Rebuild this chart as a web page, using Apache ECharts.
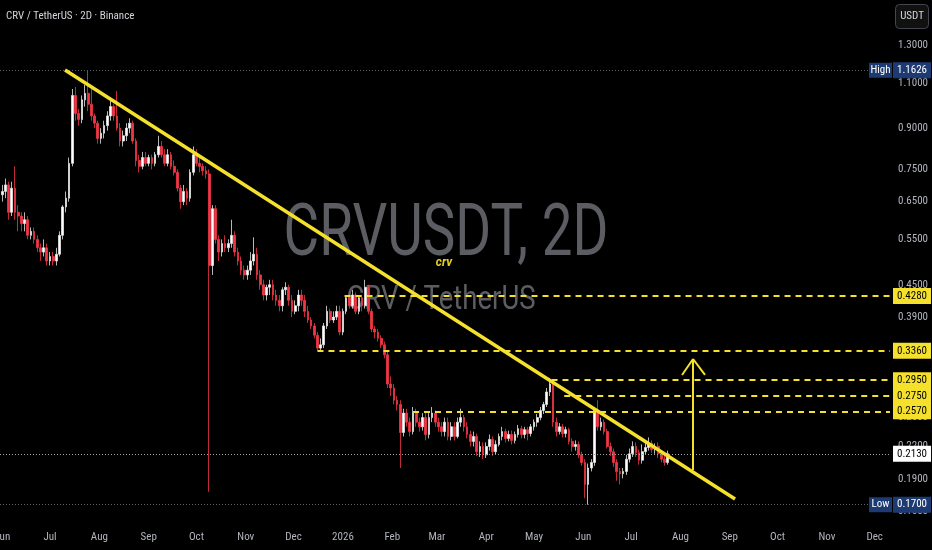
<!DOCTYPE html>
<html><head><meta charset="utf-8">
<script src="https://cdn.jsdelivr.net/npm/echarts@6/dist/echarts.min.js"></script>
<style>html,body{margin:0;background:#000}#c{width:932px;height:550px}</style>
</head><body><div id="c"></div>
<script>
// ---- data ----
const firstDate = '2025-06-01';
const stepDays = 2;
const firstOpen = 0.67;
const closes = [
0.68,0.70,0.62,0.69,0.62,0.61,0.59,0.60,0.56,0.57,
0.55,0.53,0.52,0.53,0.50,0.51,0.50,0.515,0.56,0.635,
0.66,0.77,1.04,0.96,0.935,1.02,1.05,1.00,0.95,0.92,
0.86,0.88,0.91,0.95,0.99,0.95,0.90,0.85,0.87,0.90,
0.92,0.85,0.78,0.76,0.79,0.77,0.79,0.77,0.80,0.83,
0.80,0.77,0.80,0.76,0.74,0.69,0.65,0.68,0.66,0.74,
0.80,0.77,0.76,0.745,0.735,0.49,0.63,0.55,0.52,0.54,
0.53,0.54,0.56,0.52,0.50,0.48,0.47,0.48,0.50,0.515,
0.47,0.45,0.43,0.445,0.45,0.43,0.42,0.41,0.44,0.445,
0.42,0.40,0.41,0.43,0.42,0.40,0.385,0.375,0.36,0.34,
0.345,0.375,0.40,0.385,0.39,0.40,0.365,0.40,0.425,0.41,
0.43,0.40,0.425,0.41,0.445,0.40,0.37,0.365,0.355,0.345,
0.33,0.29,0.285,0.27,0.265,0.234,0.255,0.245,0.235,0.255,
0.245,0.24,0.25,0.232,0.25,0.255,0.245,0.24,0.235,0.245,
0.23,0.24,0.23,0.245,0.25,0.24,0.232,0.225,0.23,0.215,
0.22,0.212,0.22,0.227,0.215,0.222,0.23,0.235,0.228,0.232,
0.226,0.232,0.238,0.232,0.237,0.233,0.24,0.245,0.25,0.258,
0.265,0.28,0.29,0.245,0.235,0.24,0.233,0.237,0.225,0.22,
0.222,0.212,0.205,0.186,0.20,0.205,0.258,0.24,0.245,0.235,
0.22,0.215,0.205,0.197,0.195,0.197,0.208,0.213,0.22,0.214,
0.207,0.215,0.219,0.223,0.217,0.22,0.213,0.208,0.205,0.213
];
const highs = [
0.70,0.72,0.71,0.71,0.76,0.64,0.62,0.62,0.61,0.58,
0.58,0.56,0.54,0.55,0.54,0.52,0.52,0.53,0.57,0.64,
0.68,0.79,1.07,1.08,0.98,1.04,1.09,1.1626,1.07,0.96,
0.93,0.90,0.93,0.97,1.03,1.00,1.06,0.92,0.89,0.92,
0.94,0.93,0.86,0.80,0.81,0.81,0.80,0.80,0.81,0.87,
0.85,0.82,0.82,0.81,0.78,0.75,0.70,0.70,0.69,0.75,
0.83,0.82,0.79,0.77,0.76,0.75,0.64,0.64,0.56,0.55,
0.56,0.55,0.60,0.57,0.53,0.51,0.49,0.49,0.52,0.555,
0.53,0.48,0.46,0.45,0.46,0.46,0.44,0.43,0.445,0.455,
0.45,0.43,0.42,0.44,0.44,0.43,0.41,0.39,0.38,0.365,
0.355,0.38,0.41,0.405,0.40,0.41,0.41,0.405,0.43,0.435,
0.44,0.435,0.43,0.43,0.46,0.45,0.405,0.375,0.37,0.36,
0.35,0.335,0.30,0.29,0.275,0.27,0.26,0.26,0.25,0.262,
0.26,0.25,0.255,0.255,0.255,0.262,0.258,0.25,0.245,0.25,
0.25,0.245,0.245,0.25,0.26,0.253,0.245,0.236,0.235,0.233,
0.225,0.224,0.224,0.232,0.23,0.226,0.233,0.24,0.238,0.236,
0.236,0.235,0.242,0.241,0.24,0.24,0.243,0.248,0.254,0.262,
0.268,0.285,0.298,0.293,0.25,0.244,0.243,0.24,0.239,0.228,
0.226,0.225,0.215,0.208,0.204,0.208,0.262,0.27,0.25,0.248,
0.238,0.224,0.218,0.208,0.20,0.20,0.212,0.218,0.225,0.224,
0.217,0.222,0.224,0.229,0.226,0.223,0.224,0.216,0.212,0.216
];
const lows = [
0.65,0.66,0.60,0.61,0.60,0.57,0.57,0.57,0.55,0.55,
0.54,0.52,0.50,0.51,0.49,0.49,0.49,0.49,0.51,0.55,
0.62,0.65,0.76,0.93,0.91,0.92,0.99,0.97,0.93,0.90,
0.84,0.84,0.86,0.89,0.93,0.93,0.89,0.83,0.83,0.85,
0.88,0.84,0.76,0.74,0.75,0.76,0.76,0.75,0.76,0.79,
0.79,0.76,0.76,0.75,0.73,0.68,0.63,0.64,0.64,0.65,
0.73,0.76,0.74,0.73,0.72,0.18,0.47,0.54,0.50,0.51,
0.52,0.52,0.53,0.51,0.49,0.47,0.46,0.46,0.47,0.49,
0.46,0.44,0.42,0.42,0.43,0.42,0.41,0.40,0.40,0.43,
0.41,0.39,0.395,0.40,0.41,0.39,0.38,0.37,0.355,0.336,
0.336,0.34,0.37,0.38,0.38,0.385,0.36,0.36,0.395,0.405,
0.405,0.395,0.395,0.40,0.405,0.395,0.365,0.355,0.35,0.34,
0.325,0.285,0.275,0.265,0.258,0.20,0.23,0.24,0.23,0.232,
0.24,0.235,0.236,0.226,0.228,0.245,0.24,0.235,0.23,0.23,
0.226,0.226,0.226,0.228,0.24,0.235,0.228,0.22,0.22,0.211,
0.21,0.208,0.209,0.216,0.211,0.212,0.22,0.226,0.224,0.225,
0.222,0.223,0.229,0.228,0.228,0.226,0.23,0.236,0.24,0.247,
0.254,0.262,0.275,0.24,0.23,0.232,0.229,0.229,0.222,0.215,
0.216,0.209,0.202,0.175,0.17,0.197,0.202,0.236,0.236,0.232,
0.218,0.211,0.201,0.189,0.186,0.191,0.194,0.205,0.21,0.21,
0.203,0.204,0.212,0.216,0.214,0.213,0.209,0.205,0.202,0.203
];
const monthTicks = ['2025-06-01','2025-07-01','2025-08-01','2025-09-01','2025-10-01','2025-11-01','2025-12-01','2026-01-01','2026-02-01','2026-03-01','2026-04-01','2026-05-01','2026-06-01','2026-07-01','2026-08-01','2026-09-01','2026-10-01','2026-11-01','2026-12-01'];
const monthLabels = ['Jun','Jul','Aug','Sep','Oct','Nov','Dec','2026','Feb','Mar','Apr','May','Jun','Jul','Aug','Sep','Oct','Nov','Dec'];
const priceTicks = [1.3,1.1,0.9,0.75,0.65,0.55,0.45,0.39,0.25,0.22,0.19,0.165];
const levelValues = [0.428,0.336,0.295,0.275,0.257];
const levelStarts = ['2026-01-02','2025-12-16','2026-05-12','2026-05-20','2026-02-14'];
const highValue = 1.1626, lowValue = 0.17, lastValue = 0.213;
const trendLine = [['2025-07-10T10:00',1.164],['2026-09-04T07:00',0.1744]];
const arrowShaft = [['2026-08-08T22:00',0.1983],['2026-08-08T22:00',0.324]];
const arrowLeft = [['2026-08-02T00:00',0.3019],['2026-08-08T22:00',0.324]];
const arrowRight = [['2026-08-16T10:00',0.3019],['2026-08-08T22:00',0.324]];

// ---- build ----
const T = s => Date.parse(s.length === 10 ? s + 'T00:00:00Z' : s + ':00Z');
const DAY = 86400000;
const xMin = Date.UTC(2025,4,30,14), xMax = Date.UTC(2026,11,10,15);
const yMin = 0.1575, yMax = 1.5865;
const t0 = T(firstDate);
const candles = closes.map((c,i) => [t0 + i*stepDays*DAY, i===0 ? firstOpen : closes[i-1], c, lows[i], highs[i]]);
const monthTimes = monthTicks.map(T);
const FONT = '"Liberation Sans Narrow", "Roboto Condensed", Roboto, sans-serif';
const YEL = '#f5e12b';

const ml = [];
levelValues.forEach((v,i) => {
  ml.push([{coord:[T(levelStarts[i]), v], lineStyle:{color:YEL, type:[6,5], width:2},
    label:{show:true, position:'end', distance:3, formatter:v.toFixed(4), color:'#000', backgroundColor:YEL, padding:[3,4,2,4], fontSize:11, fontFamily:FONT}},
    {coord:[xMax, v]}]);
});
[[highValue,'#5d606b','#1d3b72','#fff'],[lowValue,'#5d606b','#1d3b72','#fff'],[lastValue,'#a0a0a0','#ffffff','#000']].forEach(([v,lc,bg,fc]) => {
  ml.push([{coord:[xMin, v], lineStyle:{color:lc, type:[1,2], width:1},
    label:{show:true, position:'end', distance:3, formatter:v.toFixed(4), color:fc, backgroundColor:bg, padding:[3,4,2,4], fontSize:11, fontFamily:FONT}},
    {coord:[xMax, v]}]);
});
ml.push([{coord:[T(trendLine[0][0]), trendLine[0][1]], lineStyle:{color:YEL, type:'solid', width:3.5}}, {coord:[T(trendLine[1][0]), trendLine[1][1]]}]);
[arrowShaft, arrowLeft, arrowRight].forEach(a => {
  ml.push([{coord:[T(a[0][0]), a[0][1]], lineStyle:{color:YEL, type:'solid', width:2}}, {coord:[T(a[1][0]), a[1][1]]}]);
});

const chart = echarts.init(document.getElementById('c'));
chart.setOption({
  backgroundColor:'#000',
  animation:false,
  grid:{left:0, right:42, top:0, bottom:28, outerBoundsMode:'none', containLabel:false},
  xAxis:{type:'value', min:xMin, max:xMax,
    axisLine:{show:false}, axisTick:{show:false}, splitLine:{show:false},
    axisLabel:{customValues:monthTimes, color:'#b2b5be', fontSize:11, fontFamily:FONT, margin:10,
      formatter:v => { const k = monthTimes.findIndex(m => Math.abs(m - v) < DAY); return k >= 0 ? monthLabels[k] : ''; }}},
  yAxis:{type:'log', logBase:10, position:'right', min:yMin, max:yMax,
    axisLine:{show:false}, axisTick:{show:false}, splitLine:{show:false},
    axisLabel:{customValues:priceTicks, color:'#b2b5be', fontSize:11, fontFamily:FONT, margin:8,
      formatter:v => Number(v).toFixed(4)}},
  graphic:[
    {type:'text', x:446, y:237, scaleX:0.75, z:0, style:{text:'CRVUSDT, 2D', fill:'#5c5d62', font:'73px Roboto, sans-serif', textAlign:'center', textVerticalAlign:'middle'}},
    {type:'text', x:441, y:300, scaleX:0.81, z:0, style:{text:'CRV / TetherUS', fill:'#5c5d62', font:'34px Roboto, sans-serif', textAlign:'center', textVerticalAlign:'middle'}},
    {type:'text', x:444, y:263, z:0, style:{text:'crv', fill:'#e8d31c', font:'italic bold 12px Roboto, sans-serif', textAlign:'center', textVerticalAlign:'middle'}},
    {type:'text', x:6, y:16, style:{text:'CRV / TetherUS · 2D · Binance', fill:'#d1d4dc', font:'11px ' + FONT, textVerticalAlign:'middle'}},
    {type:'rect', shape:{x:895.5, y:4.5, width:33, height:24, r:4}, style:{fill:'#111', stroke:'#434651', lineWidth:1}},
    {type:'text', x:912, y:16.5, style:{text:'USDT', fill:'#d1d4dc', font:'11px ' + FONT, textAlign:'center', textVerticalAlign:'middle'}}
  ],
  series:[{
    type:'candlestick', clip:false,
    data:candles, encode:{x:0, y:[1,2,3,4]},
    barWidth:2.2,
    itemStyle:{color:'#ffffff', color0:'#f23645', borderColor:'#e6e6e6', borderColor0:'#f23645', borderWidth:0.8},
    markLine:{silent:true, symbol:['none','none'], animation:false, label:{show:false}, data:ml},
    markPoint:{silent:true, animation:false, data:[
      {coord:[xMax, highValue], symbol:'rect', symbolSize:[23,15], symbolOffset:[-9.5,0], itemStyle:{color:'#1d3b72'}, label:{show:true, formatter:'High', color:'#fff', fontSize:11, fontFamily:FONT}},
      {coord:[xMax, lowValue], symbol:'rect', symbolSize:[23,15], symbolOffset:[-9.5,0], itemStyle:{color:'#1d3b72'}, label:{show:true, formatter:'Low', color:'#fff', fontSize:11, fontFamily:FONT}}
    ]}
  }]
});
</script></body></html>
